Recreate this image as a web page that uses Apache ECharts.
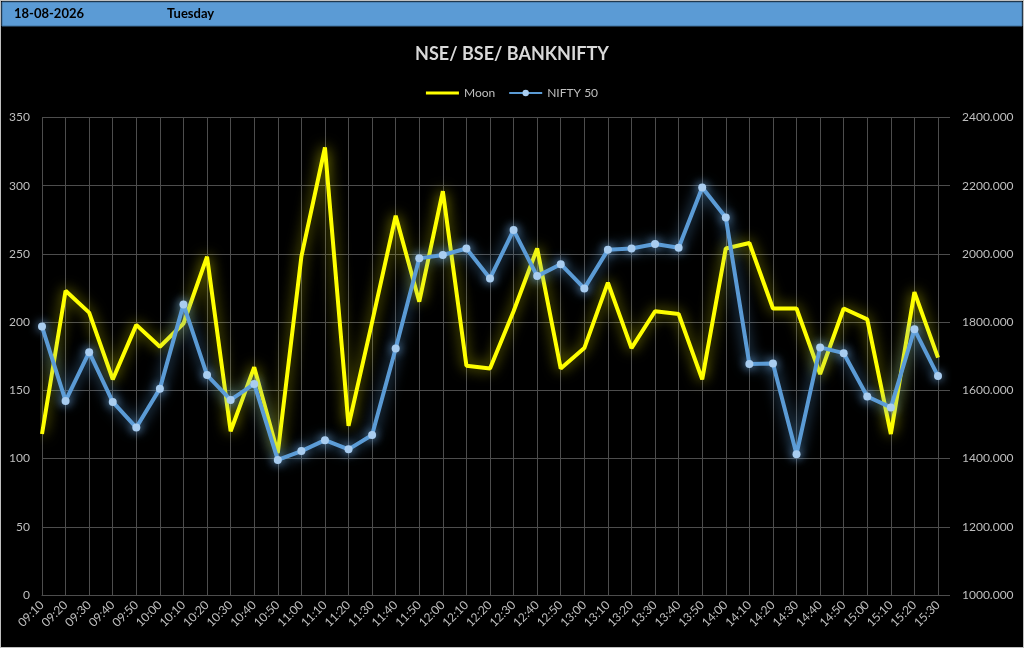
<!DOCTYPE html>
<html>
<head>
<meta charset="utf-8">
<script src="https://cdn.jsdelivr.net/npm/echarts@6/dist/echarts.min.js"></script>
<style>
html,body{margin:0;padding:0;background:#000;}
#chart{width:1024px;height:648px;}
</style>
</head>
<body>
<div id="chart"></div>
<script>
const headerDate = '18-08-2026';
const headerDay = 'Tuesday';
const chartTitle = 'NSE/ BSE/ BANKNIFTY';
const seriesNames = ['Moon', 'NIFTY 50'];
const times = ['09:10','09:20','09:30','09:40','09:50','10:00','10:10','10:20','10:30','10:40','10:50',
  '11:00','11:10','11:20','11:30','11:40','11:50','12:00','12:10','12:20','12:30','12:40','12:50',
  '13:00','13:10','13:20','13:30','13:40','13:50','14:00','14:10','14:20','14:30','14:40','14:50',
  '15:00','15:10','15:20','15:30'];
const moon = [118,223,207,158,198,182,199,248,120,167,104,248,328,124,200,278,215,296,168,166,208,254,166,181,229,181,208,206,158,254,258,210,210,162,210,202,118,222,174];
const nifty = [1787,1569,1712,1566,1491,1605,1852,1645,1572,1619,1396,1422,1454,1427,1469,1723,1987,1997,2016,1928,2070,1935,1970,1899,2012,2016,2029,2018,2195,2107,1677,1679,1413,1726,1709,1582,1550,1779,1642];

const FONT = 'Lato, "Open Sans", sans-serif';
const gridColor = '#4d4d4d';
const labelColor = '#bfbfbf';
const lineIcon = 'path://M0,0L0.01,0Z M0,2.5L33,2.5L33,5.5L0,5.5Z M0,8L0.01,8Z';

const chart = echarts.init(document.getElementById('chart'), null, {renderer: 'canvas'});
chart.setOption({
  backgroundColor: '#000',
  animation: false,
  textStyle: {fontFamily: FONT},
  graphic: [
    {type: 'rect', shape: {x: 0, y: 0, width: 1024, height: 648}, style: {fill: 'none', stroke: '#bfbfbf', lineWidth: 2}, z: 0, silent: true},
    {type: 'rect', shape: {x: 2, y: 2, width: 1020, height: 24}, style: {fill: '#5B9BD5', stroke: '#41719C', lineWidth: 1}, z: 1},
    {type: 'text', left: 14, top: 7, style: {text: headerDate, fill: '#000', font: 'bold 13px ' + FONT}, z: 2},
    {type: 'text', left: 167, top: 7, style: {text: headerDay, fill: '#000', font: 'bold 13px ' + FONT}, z: 2}
  ],
  title: {
    text: chartTitle,
    left: 'center',
    top: 40,
    textStyle: {color: '#d9d9d9', fontSize: 18, fontWeight: 'bold', fontFamily: FONT}
  },
  legend: {
    top: 82,
    left: 'center',
    itemWidth: 33,
    itemHeight: 8,
    itemGap: 13,
    textStyle: {color: labelColor, fontSize: 12, fontFamily: FONT},
    data: [{name: seriesNames[0], icon: lineIcon}, {name: seriesNames[1]}]
  },
  grid: {left: 42, right: 86, top: 117.5, bottom: 53, containLabel: false},
  xAxis: {
    type: 'category',
    data: times,
    boundaryGap: false,
    axisLine: {show: true, lineStyle: {color: gridColor, width: 1}},
    axisTick: {show: false},
    splitLine: {show: true, interval: 0, lineStyle: {color: gridColor, width: 1}},
    axisLabel: {color: labelColor, fontSize: 12, rotate: 45, interval: 0, margin: 8, fontFamily: FONT}
  },
  yAxis: [
    {
      type: 'value', min: 0, max: 350, interval: 50, position: 'left',
      axisLine: {show: false}, axisTick: {show: false},
      splitLine: {show: true, lineStyle: {color: gridColor, width: 1}},
      axisLabel: {color: labelColor, fontSize: 12, margin: 12, fontFamily: FONT}
    },
    {
      type: 'value', min: 1000, max: 2400, interval: 200, position: 'right',
      axisLine: {show: false},
      axisTick: {show: true, length: 12, lineStyle: {color: gridColor, width: 1}},
      splitLine: {show: false},
      axisLabel: {color: labelColor, fontSize: 12, margin: 24, fontFamily: FONT, formatter: v => v.toFixed(3)}
    }
  ],
  series: [
    {
      name: seriesNames[0], type: 'line', yAxisIndex: 0, data: moon,
      showSymbol: false, symbol: 'none',
      color: '#FFFF00',
      lineStyle: {color: '#FFFF00', width: 4, shadowBlur: 14, shadowColor: 'rgba(255,255,0,0.65)'},
      z: 3
    },
    {
      name: seriesNames[1], type: 'line', yAxisIndex: 1, data: nifty,
      symbol: 'circle', symbolSize: 8, showSymbol: true,
      color: '#5B9BD5',
      lineStyle: {color: '#5B9BD5', width: 4, shadowBlur: 14, shadowColor: 'rgba(91,155,213,0.85)'},
      itemStyle: {color: '#A9CDF0', borderWidth: 0, shadowBlur: 10, shadowColor: 'rgba(120,180,240,0.95)'},
      z: 4
    }
  ]
});
</script>
</body>
</html>
